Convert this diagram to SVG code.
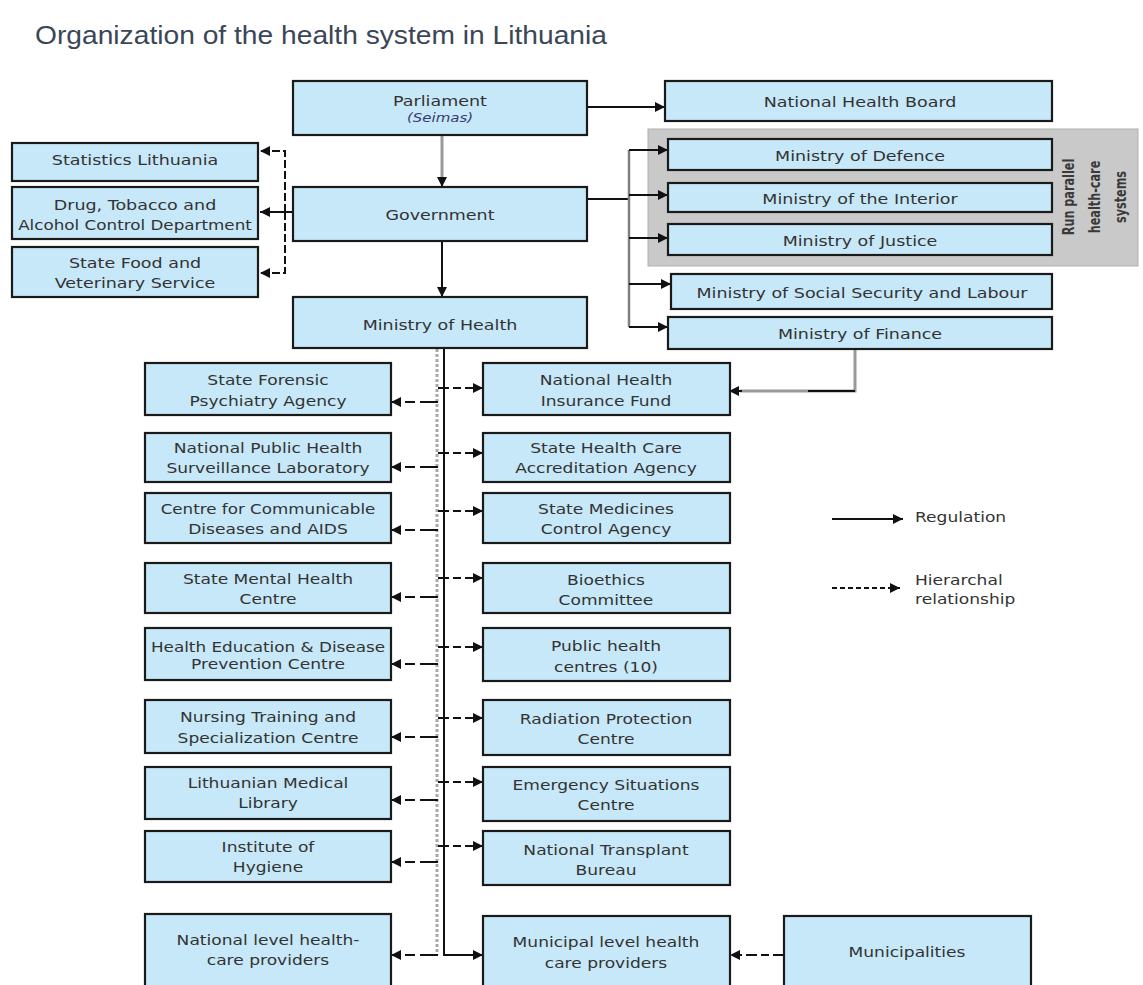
<svg xmlns="http://www.w3.org/2000/svg" width="1143" height="985" viewBox="0 0 1143 985">
<defs>
<marker id="ah" markerUnits="userSpaceOnUse" markerWidth="11" markerHeight="10" refX="10" refY="5" orient="auto">
<path d="M0,0 L10,5 L0,10 z" fill="#111"/>
</marker>
<style>
.box{fill:#c7e8f8;stroke:#1a1a1a;stroke-width:2.2}
.grp{fill:#c9c9c9;stroke:#b0b0b0;stroke-width:1}
.t{font-family:"DejaVu Sans",Verdana,sans-serif;font-size:14px;fill:#333;text-anchor:middle}
.l{font-family:"DejaVu Sans",Verdana,sans-serif;font-size:14px;fill:#333}
.rt{font-family:"DejaVu Sans",sans-serif;font-size:15px;font-weight:bold;fill:#3a3a3a;text-anchor:middle}
.title{font-family:"Liberation Sans",Arial,sans-serif;font-size:26px;fill:#3b4656}
.c{fill:none;stroke:#111;stroke-width:2}
.g{fill:none;stroke:#9a9a9a;stroke-width:3}
.dl{fill:none;stroke:#111;stroke-width:2;stroke-dasharray:18,5,10,5}
.dr{fill:none;stroke:#111;stroke-width:2;stroke-dasharray:11,4,8,4}
.dv{fill:none;stroke:#111;stroke-width:2;stroke-dasharray:8,3}
.gd{fill:none;stroke:#a8a8a8;stroke-width:3;stroke-dasharray:3,2}
</style>
</defs>
<rect width="1143" height="985" fill="#fff"/>
<text class="title" x="35" y="44" textLength="572" lengthAdjust="spacingAndGlyphs">Organization of the health system in Lithuania</text>

<g id="group-parallel">
<rect class="grp" x="648" y="129" width="490" height="137"/>
<text class="rt" transform="translate(1074,197) rotate(-90) scale(0.75,1)">Run parallel</text>
<text class="rt" transform="translate(1100,197) rotate(-90) scale(0.75,1)">health-care</text>
<text class="rt" transform="translate(1126,197) rotate(-90) scale(0.75,1)">systems</text>
</g>

<g id="connectors">
<path class="g" d="M442,135 V180"/>
<path class="c" d="M442,178 V187" marker-end="url(#ah)"/>
<path class="c" d="M442,241 V297" marker-end="url(#ah)"/>
<path class="c" d="M587,107 H665" marker-end="url(#ah)"/>
<path class="c" d="M587,199 H629"/>
<path d="M629,150 V327" fill="none" stroke="#808080" stroke-width="2.5"/>
<path class="c" d="M629,150 H668" marker-end="url(#ah)"/>
<path class="c" d="M629,195 H668" marker-end="url(#ah)"/>
<path class="c" d="M629,238 H668" marker-end="url(#ah)"/>
<path class="c" d="M629,284 H671" marker-end="url(#ah)"/>
<path class="c" d="M629,327 H668" marker-end="url(#ah)"/>
<path class="c" d="M293,212 H260" marker-end="url(#ah)"/>
<path class="dv" d="M285,212 V151 H260" marker-end="url(#ah)"/>
<path class="dv" d="M285,212 V273 H260" marker-end="url(#ah)"/>
<path class="g" d="M855,349 V391 H740"/>
<path class="c" d="M855,391 H808"/>
<path class="c" d="M742,391 H729" marker-end="url(#ah)"/>
<path class="gd" d="M437,349 V955"/>
<path class="c" d="M444,349 V955 H483" marker-end="url(#ah)"/>
<path class="dl" d="M438,402 H391" marker-end="url(#ah)"/>
<path class="dl" d="M438,467 H391" marker-end="url(#ah)"/>
<path class="dl" d="M438,530 H391" marker-end="url(#ah)"/>
<path class="dl" d="M438,597 H391" marker-end="url(#ah)"/>
<path class="dl" d="M438,664 H391" marker-end="url(#ah)"/>
<path class="dl" d="M438,737 H391" marker-end="url(#ah)"/>
<path class="dl" d="M438,800 H391" marker-end="url(#ah)"/>
<path class="dl" d="M438,862 H391" marker-end="url(#ah)"/>
<path class="dl" d="M438,955 H391" marker-end="url(#ah)"/>
<path class="dr" d="M438,388 H483" marker-end="url(#ah)"/>
<path class="dr" d="M438,453 H483" marker-end="url(#ah)"/>
<path class="dr" d="M438,511 H483" marker-end="url(#ah)"/>
<path class="dr" d="M438,578 H483" marker-end="url(#ah)"/>
<path class="dr" d="M438,647 H483" marker-end="url(#ah)"/>
<path class="dr" d="M438,718 H483" marker-end="url(#ah)"/>
<path class="dr" d="M438,782 H483" marker-end="url(#ah)"/>
<path class="dr" d="M438,846 H483" marker-end="url(#ah)"/>
<path class="dr" d="M784,955 H730" marker-end="url(#ah)"/>
</g>

<g id="parliament"><rect class="box" x="293" y="81" width="294" height="54"/>
<text class="t" transform="translate(440,106) scale(1.25,1)">Parliament</text>
<text class="t" transform="translate(440,122) scale(1.25,1)" style="font-size:12px;font-style:italic;fill:#3a3a70">(Seimas)</text></g>
<g id="government"><rect class="box" x="293" y="187" width="294" height="54"/>
<text class="t" transform="translate(440,220) scale(1.25,1)">Government</text></g>
<g id="ministry-health"><rect class="box" x="293" y="297" width="294" height="51"/>
<text class="t" transform="translate(440,330) scale(1.25,1)">Ministry of Health</text></g>

<g id="national-health-board"><rect class="box" x="665" y="81" width="387" height="40"/>
<text class="t" transform="translate(860,107) scale(1.25,1)">National Health Board</text></g>
<g id="defence"><rect class="box" x="668" y="139" width="384" height="31"/>
<text class="t" transform="translate(860,161) scale(1.25,1)">Ministry of Defence</text></g>
<g id="interior"><rect class="box" x="668" y="183" width="384" height="29"/>
<text class="t" transform="translate(860,204) scale(1.25,1)">Ministry of the Interior</text></g>
<g id="justice"><rect class="box" x="668" y="224" width="384" height="31"/>
<text class="t" transform="translate(860,246) scale(1.25,1)">Ministry of Justice</text></g>
<g id="social"><rect class="box" x="671" y="274" width="381" height="35"/>
<text class="t" transform="translate(862,298) scale(1.25,1)">Ministry of Social Security and Labour</text></g>
<g id="finance"><rect class="box" x="668" y="317" width="384" height="32"/>
<text class="t" transform="translate(860,339) scale(1.25,1)">Ministry of Finance</text></g>

<g id="statistics"><rect class="box" x="12" y="143" width="246" height="38"/>
<text class="t" transform="translate(135,165) scale(1.25,1)">Statistics Lithuania</text></g>
<g id="drug-control"><rect class="box" x="12" y="187" width="246" height="52"/>
<text class="t" transform="translate(135,210) scale(1.25,1)">Drug, Tobacco and</text>
<text class="t" transform="translate(135,230) scale(1.25,1)" textLength="187" lengthAdjust="spacingAndGlyphs">Alcohol Control Department</text></g>
<g id="food-vet"><rect class="box" x="12" y="247" width="246" height="50"/>
<text class="t" transform="translate(135,268) scale(1.25,1)">State Food and</text>
<text class="t" transform="translate(135,288) scale(1.25,1)">Veterinary Service</text></g>

<g id="forensic"><rect class="box" x="145" y="363" width="246" height="52"/>
<text class="t" transform="translate(268,385) scale(1.22,1)">State Forensic</text>
<text class="t" transform="translate(268,406) scale(1.22,1)">Psychiatry Agency</text></g>
<g id="surveillance"><rect class="box" x="145" y="433" width="246" height="49"/>
<text class="t" transform="translate(268,453) scale(1.22,1)">National Public Health</text>
<text class="t" transform="translate(268,473) scale(1.22,1)">Surveillance Laboratory</text></g>
<g id="communicable"><rect class="box" x="145" y="493" width="246" height="50"/>
<text class="t" transform="translate(268,514) scale(1.22,1)" textLength="176" lengthAdjust="spacingAndGlyphs">Centre for Communicable</text>
<text class="t" transform="translate(268,534) scale(1.22,1)">Diseases and AIDS</text></g>
<g id="mental"><rect class="box" x="145" y="563" width="246" height="50"/>
<text class="t" transform="translate(268,584) scale(1.22,1)">State Mental Health</text>
<text class="t" transform="translate(268,604) scale(1.22,1)">Centre</text></g>
<g id="health-education"><rect class="box" x="145" y="628" width="246" height="52"/>
<text class="t" transform="translate(268,652) scale(1.22,1)" textLength="192" lengthAdjust="spacingAndGlyphs">Health Education &amp; Disease</text>
<text class="t" transform="translate(268,669) scale(1.22,1)">Prevention Centre</text></g>
<g id="nursing"><rect class="box" x="145" y="700" width="246" height="53"/>
<text class="t" transform="translate(268,722) scale(1.22,1)">Nursing Training and</text>
<text class="t" transform="translate(268,743) scale(1.22,1)">Specialization Centre</text></g>
<g id="library"><rect class="box" x="145" y="767" width="246" height="52"/>
<text class="t" transform="translate(268,788) scale(1.22,1)">Lithuanian Medical</text>
<text class="t" transform="translate(268,808) scale(1.22,1)">Library</text></g>
<g id="hygiene"><rect class="box" x="145" y="831" width="246" height="51"/>
<text class="t" transform="translate(268,852) scale(1.22,1)">Institute of</text>
<text class="t" transform="translate(268,872) scale(1.22,1)">Hygiene</text></g>
<g id="national-providers"><rect class="box" x="145" y="914" width="246" height="80"/>
<text class="t" transform="translate(268,945) scale(1.22,1)">National level health-</text>
<text class="t" transform="translate(268,965) scale(1.22,1)">care providers</text></g>

<g id="nhif"><rect class="box" x="483" y="363" width="247" height="52"/>
<text class="t" transform="translate(606,385) scale(1.22,1)">National Health</text>
<text class="t" transform="translate(606,406) scale(1.22,1)">Insurance Fund</text></g>
<g id="accreditation"><rect class="box" x="483" y="433" width="247" height="49"/>
<text class="t" transform="translate(606,453) scale(1.22,1)">State Health Care</text>
<text class="t" transform="translate(606,473) scale(1.22,1)">Accreditation Agency</text></g>
<g id="medicines"><rect class="box" x="483" y="493" width="247" height="50"/>
<text class="t" transform="translate(606,514) scale(1.22,1)">State Medicines</text>
<text class="t" transform="translate(606,534) scale(1.22,1)">Control Agency</text></g>
<g id="bioethics"><rect class="box" x="483" y="563" width="247" height="50"/>
<text class="t" transform="translate(606,585) scale(1.22,1)">Bioethics</text>
<text class="t" transform="translate(606,605) scale(1.22,1)">Committee</text></g>
<g id="public-health-centres"><rect class="box" x="483" y="628" width="247" height="53"/>
<text class="t" transform="translate(606,651) scale(1.22,1)">Public health</text>
<text class="t" transform="translate(606,672) scale(1.22,1)">centres (10)</text></g>
<g id="radiation"><rect class="box" x="483" y="700" width="247" height="55"/>
<text class="t" transform="translate(606,724) scale(1.22,1)">Radiation Protection</text>
<text class="t" transform="translate(606,744) scale(1.22,1)">Centre</text></g>
<g id="emergency"><rect class="box" x="483" y="767" width="247" height="54"/>
<text class="t" transform="translate(606,790) scale(1.22,1)">Emergency Situations</text>
<text class="t" transform="translate(606,810) scale(1.22,1)">Centre</text></g>
<g id="transplant"><rect class="box" x="483" y="831" width="247" height="54"/>
<text class="t" transform="translate(606,855) scale(1.22,1)">National Transplant</text>
<text class="t" transform="translate(606,875) scale(1.22,1)">Bureau</text></g>
<g id="municipal-providers"><rect class="box" x="483" y="916" width="247" height="80"/>
<text class="t" transform="translate(606,947) scale(1.22,1)">Municipal level health</text>
<text class="t" transform="translate(606,968) scale(1.22,1)">care providers</text></g>
<g id="municipalities"><rect class="box" x="784" y="916" width="247" height="80"/>
<text class="t" transform="translate(907,957) scale(1.22,1)">Municipalities</text></g>

<g id="legend">
<path class="c" d="M832,519 H903" marker-end="url(#ah)"/>
<path class="c" d="M832,588 H900" marker-end="url(#ah)" style="stroke-dasharray:5,3"/>
<text class="l" transform="translate(915,522) scale(1.22,1)">Regulation</text>
<text class="l" transform="translate(915,585) scale(1.22,1)">Hierarchal</text>
<text class="l" transform="translate(915,604) scale(1.22,1)">relationship</text>
</g>
</svg>
